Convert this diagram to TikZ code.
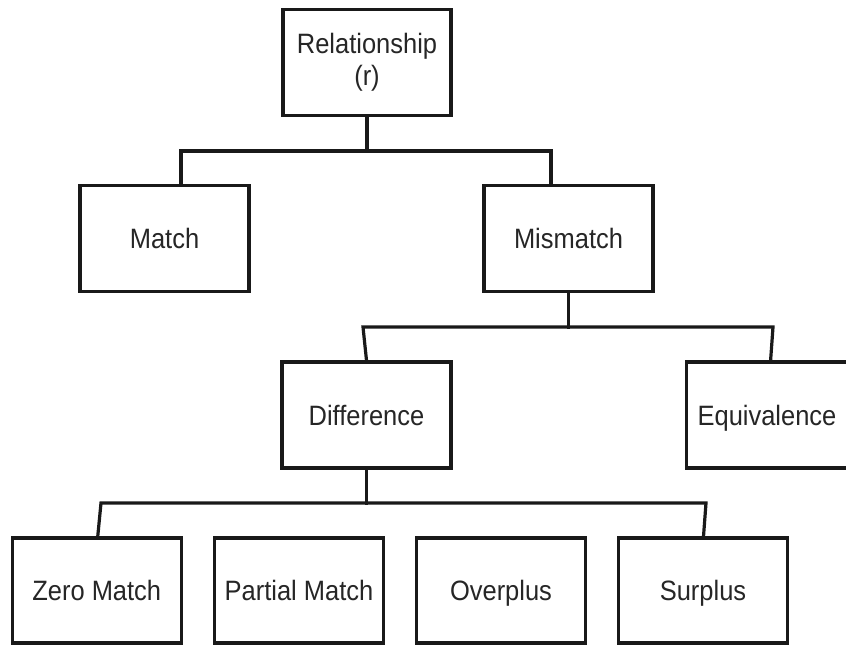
\documentclass[tikz,border=0pt]{standalone}
\usepackage{fontspec}
\setmainfont[FakeStretch=0.91]{Liberation Sans}
\usetikzlibrary{calc}
\begin{document}
\begin{tikzpicture}[x=1pt,y=-1pt,
  box/.style={draw=black!90, line width=3.2pt, minimum width=169pt,
    minimum height=106pt, inner sep=0pt, align=center, text=black!85,
    font=\fontsize{28}{32.5}\selectfont},
  single/.style={box, text height=20pt, text depth=0pt},
  leaf/.style={single, minimum height=105pt},
  link/.style={draw=black!90, line width=3.2pt, line join=miter, line cap=rect}]
\useasboundingbox (0,0) rectangle (846,645);
\fill[white] (0,0) rectangle (846,645);

% boxes
\node[box, minimum width=168pt] (rel) at (367,62.5) {Relationship\\(r)};
\node[single] (match) at (164.5,238.5) {Match};
\node[single] (mis) at (568.5,238.5) {Mismatch};
\node[single] (diff) at (366.5,415) {Difference};
\node[single] (equiv) at (771,415) {Equivalence\hspace*{8pt}};
\node[leaf] (zero) at (96.75,590.5) {Zero Match};
\node[leaf] (part) at (299,590.5) {Partial Match};
\node[leaf] (over) at (501,590.5) {Overplus};
\node[leaf] (surp) at (703,590.5) {Surplus};

% bus lines
\coordinate (bus1) at (367,151);
\coordinate (b2l) at (363,327);
\coordinate (b2m) at (568.5,327);
\coordinate (b2r) at (773,327);
\coordinate (b3l) at (101,503);
\coordinate (b3m) at (366.5,503);
\coordinate (b3r) at (706,503);

% level 1
\draw[link] (rel.south) -- (bus1);
\draw[link] ($(match.north)+(16.5,0)$) |- (bus1) -| ($(mis.north)+(-17.5,0)$);

% level 2
\draw[link] (mis.south) -- (b2m);
\draw[link] (diff.north) -- (b2l) -- (b2r) -- ($(equiv.north)+(-0.4,0)$);

% level 3
\draw[link] (diff.south) -- (b3m);
\draw[link] ($(zero.north)+(1,0)$) -- (b3l) -- (b3r) -- ($(surp.north)+(0.5,0)$);
\end{tikzpicture}
\end{document}
